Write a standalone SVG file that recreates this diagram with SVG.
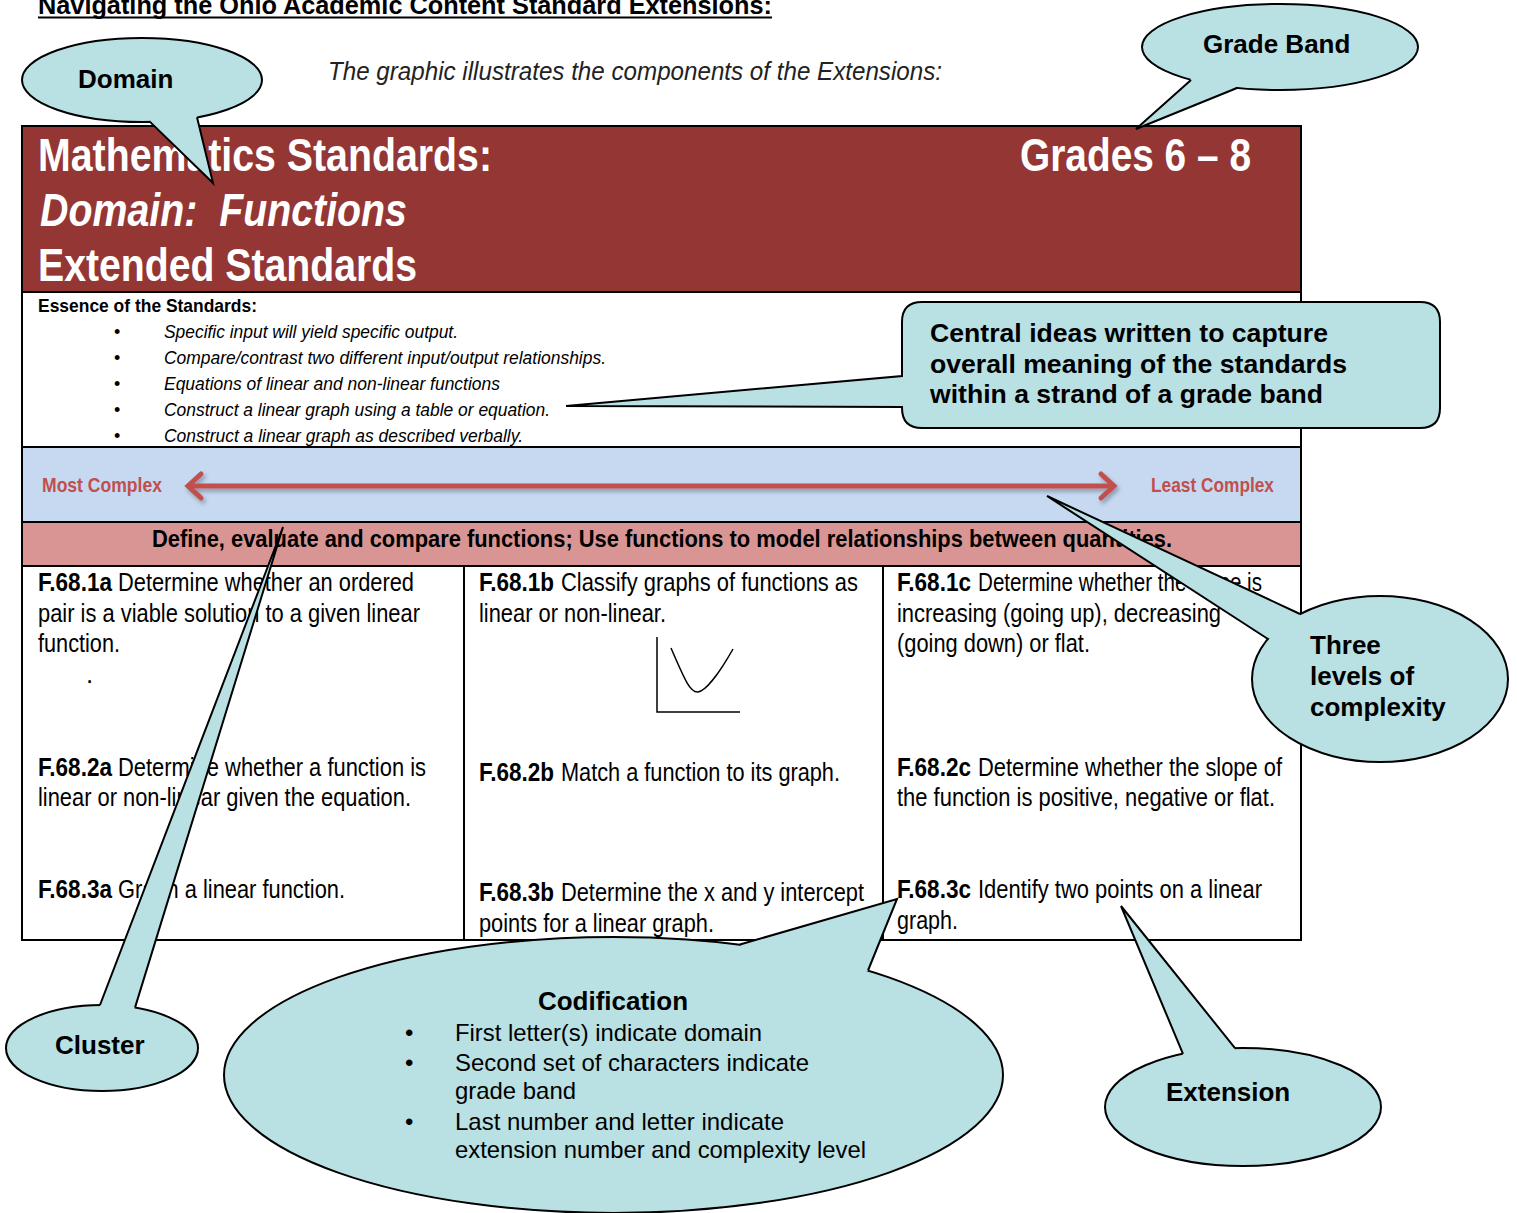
<svg xmlns="http://www.w3.org/2000/svg" width="1517" height="1213" viewBox="0 0 1517 1213">
<style>
.nar{font-family:"Liberation Sans Narrow","Arial Narrow","Liberation Sans",Arial,sans-serif}
.ar{font-family:"Liberation Sans",Arial,sans-serif}
.cell{font-size:26px;fill:#000}
.b{font-weight:bold}
.co{fill:#b9e0e3;stroke:#000;stroke-width:2}
.tf{fill:#b9e0e3;stroke:none}
.te{fill:none;stroke:#000;stroke-width:2;stroke-linejoin:miter}
.ct{font-family:"Liberation Sans",Arial,sans-serif;font-weight:bold;font-size:26px;fill:#000}
.hd{font-family:"Liberation Sans Narrow","Arial Narrow","Liberation Sans",Arial,sans-serif;font-weight:bold;font-size:46px;fill:#fff}
.ess{font-family:"Liberation Sans Narrow","Arial Narrow","Liberation Sans",Arial,sans-serif;font-style:italic;font-size:19px;fill:#000}
.cx{font-family:"Liberation Sans Narrow","Arial Narrow","Liberation Sans",Arial,sans-serif;font-weight:bold;font-size:21px;fill:#c0504d}
.box{stroke:#000;stroke-width:2}
</style>
<defs>
<marker id="chev" viewBox="-16 -14 20 28" markerWidth="20" markerHeight="28" markerUnits="userSpaceOnUse" refX="0" refY="0" orient="auto-start-reverse" overflow="visible">
<path d="M-13,-12 L0,0 L-13,12" fill="none" stroke="#c0504d" stroke-width="5" stroke-linecap="round"/>
</marker>
<filter id="sh" filterUnits="userSpaceOnUse" x="150" y="455" width="1000" height="65">
<feDropShadow dx="2" dy="3" stdDeviation="2" flood-color="#000" flood-opacity="0.3"/>
</filter>
</defs>

<!-- Title and intro -->
<g id="title">
<text class="nar b" x="38" y="14" font-size="25" textLength="734" lengthAdjust="spacingAndGlyphs">Navigating the Ohio Academic Content Standard Extensions:</text>
<line x1="38" y1="17.5" x2="772" y2="17.5" stroke="#000" stroke-width="2"/>
</g>
<g id="intro">
<text class="ar" x="328" y="80" font-size="25" font-style="italic" fill="#222" textLength="614" lengthAdjust="spacingAndGlyphs">The graphic illustrates the components of the Extensions:</text>
</g>

<!-- Header -->
<g id="header">
<rect class="box" x="22" y="126" width="1279" height="166" fill="#943634"/>
<text class="hd" x="38" y="171" textLength="454" lengthAdjust="spacingAndGlyphs">Mathematics Standards:</text>
<text class="hd" x="40" y="226" font-style="italic" textLength="367" lengthAdjust="spacingAndGlyphs">Domain:&#160; Functions</text>
<text class="hd" x="38" y="281" textLength="379" lengthAdjust="spacingAndGlyphs">Extended Standards</text>
<text class="hd" x="1020" y="171" textLength="231" lengthAdjust="spacingAndGlyphs">Grades 6 – 8</text>
</g>

<!-- Essence -->
<g id="essence">
<rect class="box" x="22" y="292" width="1279" height="155" fill="#fff"/>
<text class="nar b" x="38" y="312" font-size="19" textLength="219" lengthAdjust="spacingAndGlyphs">Essence of the Standards:</text>
<g class="ar" font-size="18">
<text x="114" y="338">•</text><text x="114" y="364">•</text><text x="114" y="390">•</text><text x="114" y="416">•</text><text x="114" y="442">•</text>
</g>
<text class="ess" x="164" y="338" textLength="294" lengthAdjust="spacingAndGlyphs">Specific input will yield specific output.</text>
<text class="ess" x="164" y="364" textLength="442" lengthAdjust="spacingAndGlyphs">Compare/contrast two different input/output relationships.</text>
<text class="ess" x="164" y="390" textLength="336" lengthAdjust="spacingAndGlyphs">Equations of linear and non-linear functions</text>
<text class="ess" x="164" y="416" textLength="386" lengthAdjust="spacingAndGlyphs">Construct a linear graph using a table or equation.</text>
<text class="ess" x="164" y="442" textLength="359" lengthAdjust="spacingAndGlyphs">Construct a linear graph as described verbally.</text>
</g>

<!-- Complexity bar -->
<g id="complexity">
<rect class="box" x="22" y="447" width="1279" height="75" fill="#c6d9f1"/>
<text class="cx" x="42" y="492" textLength="120" lengthAdjust="spacingAndGlyphs">Most Complex</text>
<text class="cx" x="1151" y="492" textLength="123" lengthAdjust="spacingAndGlyphs">Least Complex</text>
</g>

<!-- Cluster bar -->
<g id="cluster-bar">
<rect class="box" x="22" y="522" width="1279" height="44" fill="#d99594"/>
<text class="nar b" x="152" y="547" font-size="24" textLength="1020" lengthAdjust="spacingAndGlyphs">Define, evaluate and compare functions; Use functions to model relationships between quantities.</text>
</g>

<!-- Table -->
<g id="table">
<rect class="box" x="22" y="566" width="1279" height="374" fill="#fff"/>
<line x1="464" y1="566" x2="464" y2="940" stroke="#000" stroke-width="2"/>
<line x1="883" y1="566" x2="883" y2="940" stroke="#000" stroke-width="2"/>
<g class="nar cell">
<text class="b" x="38" y="591" textLength="74" lengthAdjust="spacingAndGlyphs">F.68.1a</text>
<text x="118" y="591" textLength="296" lengthAdjust="spacingAndGlyphs">Determine whether an ordered</text>
<text x="38" y="622" textLength="382" lengthAdjust="spacingAndGlyphs">pair is a viable solution to a given linear</text>
<text x="38" y="652" textLength="82" lengthAdjust="spacingAndGlyphs">function.</text>
<text x="86" y="683">.</text>
<text class="b" x="38" y="776" textLength="74" lengthAdjust="spacingAndGlyphs">F.68.2a</text>
<text x="118" y="776" textLength="308" lengthAdjust="spacingAndGlyphs">Determine whether a function is</text>
<text x="38" y="806" textLength="373" lengthAdjust="spacingAndGlyphs">linear or non-linear given the equation.</text>
<text class="b" x="38" y="898" textLength="74" lengthAdjust="spacingAndGlyphs">F.68.3a</text>
<text x="118" y="898" textLength="227" lengthAdjust="spacingAndGlyphs">Graph a linear function.</text>

<text class="b" x="479" y="591" textLength="75" lengthAdjust="spacingAndGlyphs">F.68.1b</text>
<text x="561" y="591" textLength="297" lengthAdjust="spacingAndGlyphs">Classify graphs of functions as</text>
<text x="479" y="622" textLength="187" lengthAdjust="spacingAndGlyphs">linear or non-linear.</text>
<text class="b" x="479" y="781" textLength="75" lengthAdjust="spacingAndGlyphs">F.68.2b</text>
<text x="561" y="781" textLength="279" lengthAdjust="spacingAndGlyphs">Match a function to its graph.</text>
<text class="b" x="479" y="901" textLength="75" lengthAdjust="spacingAndGlyphs">F.68.3b</text>
<text x="561" y="901" textLength="303" lengthAdjust="spacingAndGlyphs">Determine the x and y intercept</text>
<text x="479" y="932" textLength="235" lengthAdjust="spacingAndGlyphs">points for a linear graph.</text>

<text class="b" x="897" y="591" textLength="74" lengthAdjust="spacingAndGlyphs">F.68.1c</text>
<text x="978" y="591" textLength="284" lengthAdjust="spacingAndGlyphs">Determine whether the slope is</text>
<text x="897" y="622" textLength="324" lengthAdjust="spacingAndGlyphs">increasing (going up), decreasing</text>
<text x="897" y="652" textLength="193" lengthAdjust="spacingAndGlyphs">(going down) or flat.</text>
<text class="b" x="897" y="776" textLength="74" lengthAdjust="spacingAndGlyphs">F.68.2c</text>
<text x="978" y="776" textLength="304" lengthAdjust="spacingAndGlyphs">Determine whether the slope of</text>
<text x="897" y="806" textLength="378" lengthAdjust="spacingAndGlyphs">the function is positive, negative or flat.</text>
<text class="b" x="897" y="898" textLength="74" lengthAdjust="spacingAndGlyphs">F.68.3c</text>
<text x="978" y="898" textLength="284" lengthAdjust="spacingAndGlyphs">Identify two points on a linear</text>
<text x="897" y="929" textLength="61" lengthAdjust="spacingAndGlyphs">graph.</text>
</g>
<g id="graph" fill="none" stroke="#000" stroke-width="1.5">
<polyline points="657,637 657,712 740,712"/>
<path d="M671,648 C684,678 690,693 698,692 C706,691 720,672 733,649"/>
</g>
</g>

<!-- Connectors: complexity arrow -->
<g id="connectors" filter="url(#sh)">
<path d="M188,486 H1114" fill="none" stroke="#c0504d" stroke-width="5" marker-start="url(#chev)" marker-end="url(#chev)"/>
</g>

<!-- Callouts -->
<g id="callout-domain">
<ellipse class="co" cx="142" cy="80" rx="120" ry="42"/>
<polygon class="tf" points="150,121 213,183 197,116 173,104"/>
<polyline class="te" points="150,121.9 213,183 197,117.3"/>
<text class="ct" x="78" y="88">Domain</text>
</g>

<g id="callout-gradeband">
<ellipse class="co" cx="1280" cy="47" rx="138" ry="43"/>
<polygon class="tf" points="1191,79 1136,129 1237,87 1215,68"/>
<polyline class="te" points="1191,80 1136,129 1237,88"/>
<text class="ct" x="1203" y="53">Grade Band</text>
</g>

<g id="callout-central">
<path class="co" d="M922,302 H1420 Q1440,302 1440,322 V408 Q1440,428 1420,428 H922 Q902,428 902,408 V407 L566,406 L902,376 V322 Q902,302 922,302 Z"/>
<text class="ct" x="930" y="342" textLength="398" lengthAdjust="spacingAndGlyphs">Central ideas written to capture</text>
<text class="ct" x="930" y="373" textLength="417" lengthAdjust="spacingAndGlyphs">overall meaning of the standards</text>
<text class="ct" x="930" y="403" textLength="393" lengthAdjust="spacingAndGlyphs">within a strand of a grade band</text>
</g>

<g id="callout-three">
<ellipse class="co" cx="1380" cy="679" rx="128" ry="83"/>
<polygon class="tf" points="1268,638 1047,496 1300,613 1300,650"/>
<polyline class="te" points="1268,639 1047,496 1300,614"/>
<text class="ct" x="1310" y="654">Three</text>
<text class="ct" x="1310" y="685">levels of</text>
<text class="ct" x="1310" y="716">complexity</text>
</g>

<g id="callout-cluster">
<ellipse class="co" cx="102" cy="1048" rx="96" ry="43"/>
<polygon class="tf" points="100,1006 283,527 135,1008 118,1025"/>
<polyline class="te" points="100,1005 283,527 135,1007.6"/>
<text class="ct" x="55" y="1054">Cluster</text>
</g>

<g id="callout-codification">
<ellipse class="co" cx="613.5" cy="1075" rx="389.5" ry="138"/>
<polygon class="tf" points="740,945 897,899 868,971 800,990"/>
<polyline class="te" points="740,944.5 897,899 868,970.5"/>
<text class="ct" x="613" y="1010" text-anchor="middle" font-size="25">Codification</text>
<g class="ar" font-size="24">
<text x="405" y="1041">•</text><text x="405" y="1071">•</text><text x="405" y="1130">•</text>
<text x="455" y="1041" textLength="307" lengthAdjust="spacingAndGlyphs">First letter(s) indicate domain</text>
<text x="455" y="1071" textLength="354" lengthAdjust="spacingAndGlyphs">Second set of characters indicate</text>
<text x="455" y="1099" textLength="121" lengthAdjust="spacingAndGlyphs">grade band</text>
<text x="455" y="1130" textLength="329" lengthAdjust="spacingAndGlyphs">Last number and letter indicate</text>
<text x="455" y="1158" textLength="411" lengthAdjust="spacingAndGlyphs">extension number and complexity level</text>
</g>
</g>

<g id="callout-extension">
<ellipse class="co" cx="1243" cy="1107" rx="138" ry="59"/>
<polygon class="tf" points="1183,1055 1121,906 1235,1049 1210,1075"/>
<polyline class="te" points="1183,1053.9 1121,906 1235,1048.1"/>
<text class="ct" x="1166" y="1101">Extension</text>
</g>
</svg>
